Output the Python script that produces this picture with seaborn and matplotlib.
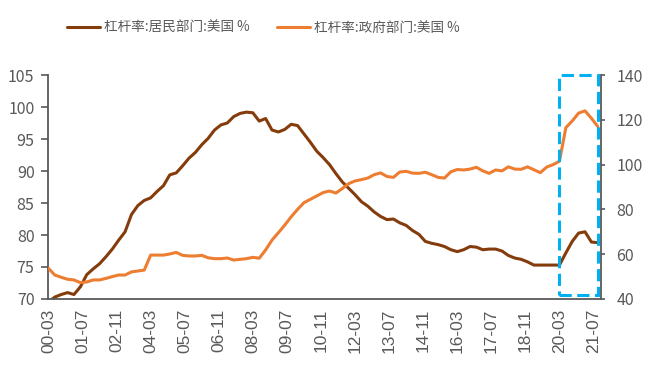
import numpy as np
import matplotlib
matplotlib.use("Agg")
import matplotlib.pyplot as plt
import seaborn as sns
from matplotlib.patches import Rectangle
from matplotlib.transforms import blended_transform_factory

# quarterly leverage ratios, 2000Q1 .. 2021Q3
household = [69.5, 70.3, 70.7, 71.0, 70.7, 71.9, 73.8, 74.7, 75.5, 76.6,
             77.8, 79.2, 80.5, 83.2, 84.6, 85.4, 85.8, 86.8, 87.7, 89.4,
             89.7, 90.8, 92.0, 92.9, 94.1, 95.1, 96.4, 97.2, 97.5, 98.5,
             99.0, 99.2, 99.1, 97.8, 98.2, 96.4, 96.1, 96.5, 97.3, 97.1,
             95.8, 94.5, 93.1, 92.1, 91.0, 89.6, 88.3, 87.3, 86.3, 85.2,
             84.5, 83.6, 82.9, 82.4, 82.5, 81.9, 81.5, 80.7, 80.1, 79.0,
             78.7, 78.5, 78.2, 77.7, 77.4, 77.7, 78.2, 78.1, 77.7, 77.8,
             77.8, 77.5, 76.8, 76.4, 76.2, 75.8, 75.3, 75.3, 75.3, 75.3,
             75.3, 77.2, 79.0, 80.3, 80.5, 78.9, 78.8]
government = [53.7, 50.7, 49.7, 48.8, 48.5, 47.3, 47.6, 48.5, 48.5, 49.2,
              50.0, 50.7, 50.7, 52.1, 52.5, 52.9, 59.6, 59.6, 59.6, 60.1,
              60.8, 59.5, 59.2, 59.2, 59.5, 58.4, 58.0, 58.0, 58.3, 57.4,
              57.7, 58.0, 58.6, 58.2, 61.9, 66.3, 69.6, 73.0, 76.7, 80.0,
              83.0, 84.5, 86.0, 87.5, 88.2, 87.3, 89.3, 91.5, 92.7, 93.3,
              94.0, 95.5, 96.3, 94.7, 94.3, 96.7, 97.0, 96.2, 96.1, 96.6,
              95.5, 94.3, 94.0, 96.8, 97.8, 97.6, 98.0, 98.8, 97.2, 96.1,
              97.6, 97.2, 99.0, 98.0, 97.9, 99.0, 97.7, 96.4, 98.9, 100.0,
              101.5, 116.5, 119.5, 123.0, 124.0, 120.7, 117.0]
tick_labels = ["00-03", "01-07", "02-11", "04-03", "05-07", "06-11", "08-03",
               "09-07", "10-11", "12-03", "13-07", "14-11", "16-03", "17-07",
               "18-11", "20-03", "21-07"]
label_hh = "杠杆率:居民部门:美国 %"
label_gov = "杠杆率:政府部门:美国 %"

# months since 2000-03
months = np.arange(len(household)) * 3
tick_pos = np.arange(len(tick_labels)) * 16

sns.set_style("white")
plt.rcParams["font.family"] = ["Noto Sans CJK SC", "DejaVu Sans"]
grey = "#595959"

fig, ax = plt.subplots(figsize=(6.5, 3.76), dpi=100)
fig.subplots_adjust(left=0.0745, right=0.9246, top=0.8005, bottom=0.2048)
ax2 = ax.twinx()

sns.lineplot(x=months, y=household, ax=ax, color="#843C0C", lw=2.2, label=label_hh, legend=False)
sns.lineplot(x=months, y=government, ax=ax2, color="#ED7D31", lw=2.2, label=label_gov, legend=False)

ax.set_xlim(0, 259.5)
ax.set_ylim(70, 105)
ax.set_yticks(np.arange(70, 106, 5))
ax2.set_ylim(40, 140)
ax2.set_yticks(np.arange(40, 141, 20))
ax.set_xticks(tick_pos)
ax.set_xticklabels(tick_labels, rotation=90, family=["Liberation Sans"])

for a in (ax, ax2):
    for side in a.spines:
        a.spines[side].set_visible(False)
    a.tick_params(colors=grey, labelsize=11.5, width=1.2, direction="out")
ax.spines["left"].set_visible(True)
ax.spines["bottom"].set_visible(True)
ax2.spines["right"].set_visible(True)
for sp in (ax.spines["left"], ax.spines["bottom"], ax2.spines["right"]):
    sp.set_color(grey)
    sp.set_linewidth(1.3)
ax.tick_params(axis="x", labelsize=12.5, length=4, pad=3)
ax.tick_params(axis="y", left=True, length=5, pad=5)
ax2.tick_params(axis="y", right=True, length=3, pad=8)

# highlight box for the 2020-2021 period
x0 = tick_pos[tick_labels.index("20-03")]
trans = blended_transform_factory(ax2.transData, ax2.transAxes)
ax2.add_patch(Rectangle((x0, 0.02), 258 - x0, 0.98, transform=trans,
                        fill=False, edgecolor="#00B0F0", lw=2.2,
                        linestyle=(0, (4, 1.8)), clip_on=False, zorder=5))

h1, l1 = ax.get_legend_handles_labels()
h2, l2 = ax2.get_legend_handles_labels()
fig.legend(h1 + h2, l1 + l2, loc="center", bbox_to_anchor=(0.405, 0.925), ncol=2,
           frameon=False, fontsize=9.8, labelcolor=grey, handlelength=2.4,
           handletextpad=0.3, columnspacing=2.0)

fig.savefig("out.png", dpi=100)
